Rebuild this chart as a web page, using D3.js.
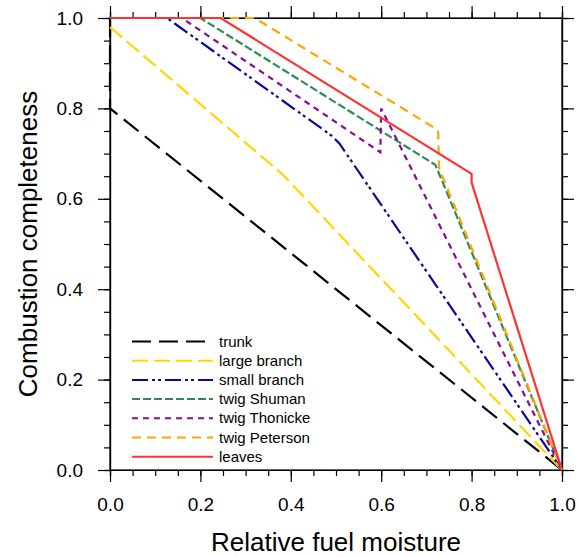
<!DOCTYPE html>
<meta charset="utf-8">
<style>
    body { margin: 0; background: #fff; }
    svg { font-family: "Liberation Sans", Arial, Helvetica, sans-serif; }
    .axis path, .axis line { fill: none; stroke: #000; stroke-width: 1.2; }
    .axis text { font-size: 19px; fill: #000; }
</style>
<body>
<script src="https://cdn.jsdelivr.net/npm/d3@7"></script>
<script>
    // series names, as in the legend
    const names = ["trunk", "large branch", "small branch", "twig Shuman",
                   "twig Thonicke", "twig Peterson", "leaves"];

    // break points (relative fuel moisture, completeness)
    const trunkX = [0, 0, 1];
    const trunkY = [1, 0.8, 0];
    const largeBranchX = [0, 0.383, 1];
    const largeBranchY = [0.98, 0.653, 0];
    const smallBranchX = [0, 0.126, 0.49, 0.507, 1];
    const smallBranchY = [1, 1, 0.74, 0.723, 0];
    const shumanX = [0, 0.2, 0.72, 1];
    const shumanY = [1, 1, 0.675, 0];
    const thonickeX = [0, 0.159, 0.598, 0.6, 1];
    const thonickeY = [1, 1, 0.703, 0.8, 0];
    const petersonX = [0, 0.32, 0.726, 0.728, 1];
    const petersonY = [1, 1, 0.752, 0.668, 0];
    const leavesX = [0, 0.245, 0.8, 0.8, 1];
    const leavesY = [1, 1, 0.655, 0.636, 0];

    const xTicks = [0, 0.2, 0.4, 0.6, 0.8, 1.0];
    const yTicks = [0, 0.2, 0.4, 0.6, 0.8, 1.0];

    const colors = ["#000000", "#ffd700", "#0a0a96", "#2e8b57", "#8b0a9b", "#ffa500", "#ff3333"];
    const dashes = ["19,8", "16,6", "16,4,3,3,3,4", "8,3", "6,5", "9,6", null];

    const series = [
        [trunkX, trunkY], [largeBranchX, largeBranchY], [smallBranchX, smallBranchY],
        [shumanX, shumanY], [thonickeX, thonickeY], [petersonX, petersonY], [leavesX, leavesY]
    ].map((s, i) => ({
        name: names[i],
        points: s[0].map((x, j) => [x, s[1][j]])
    }));

    const margin = {top: 18, right: 16, bottom: 87, left: 110};
    const W = 578, H = 557;
    const width = W - margin.left - margin.right;
    const height = H - margin.top - margin.bottom;

    const svg = d3.select('body').append('svg')
        .attr('width', W)
        .attr('height', H);

    const g = svg.append('g')
        .attr('transform', `translate(${margin.left},${margin.top})`);

    const x = d3.scaleLinear().domain([0, 1]).range([0, width]);
    const y = d3.scaleLinear().domain([0, 1]).range([height, 0]);
    const minor = d3.range(0, 1.0001, 0.05);
    const fmt = d3.format(".1f");

    // minor ticks on all four sides
    g.append('g').attr('class', 'axis').attr('transform', `translate(0,${height})`)
        .call(d3.axisBottom(x).tickValues(minor).tickSize(6).tickFormat(''));
    g.append('g').attr('class', 'axis')
        .call(d3.axisTop(x).tickValues(minor).tickSize(6).tickFormat(''));
    g.append('g').attr('class', 'axis')
        .call(d3.axisLeft(y).tickValues(minor).tickSize(6).tickFormat(''));
    g.append('g').attr('class', 'axis').attr('transform', `translate(${width},0)`)
        .call(d3.axisRight(y).tickValues(minor).tickSize(6).tickFormat(''));

    // major ticks
    g.append('g').attr('class', 'axis').attr('transform', `translate(0,${height})`)
        .call(d3.axisBottom(x).tickValues(xTicks).tickSize(12).tickSizeOuter(0).tickPadding(16).tickFormat(fmt));
    g.append('g').attr('class', 'axis')
        .call(d3.axisTop(x).tickValues(xTicks).tickSize(12).tickSizeOuter(0).tickFormat(''));
    g.append('g').attr('class', 'axis')
        .call(d3.axisLeft(y).tickValues(yTicks).tickSize(12).tickSizeOuter(0).tickPadding(15).tickFormat(fmt));
    g.append('g').attr('class', 'axis').attr('transform', `translate(${width},0)`)
        .call(d3.axisRight(y).tickValues(yTicks).tickSize(12).tickSizeOuter(0).tickFormat(''));

    // frame (drawn under the curves)
    g.append('rect')
        .attr('width', width).attr('height', height)
        .attr('fill', 'none').attr('stroke', '#000').attr('stroke-width', 1.2);

    const line = d3.line().x(d => x(d[0])).y(d => y(d[1]));

    g.selectAll('.series')
        .data(series)
        .enter().append('path')
        .attr('class', 'series')
        .attr('d', d => line(d.points))
        .attr('fill', 'none')
        .attr('stroke', (d, i) => colors[i])
        .attr('stroke-width', 2.2)
        .attr('stroke-dasharray', (d, i) => dashes[i]);

    // legend
    const legend = g.append('g').attr('transform', 'translate(22,323.5)')
        .selectAll('.legend')
        .data(series)
        .enter().append('g')
        .attr('class', 'legend')
        .attr('transform', (d, i) => `translate(0,${i * 19.2})`);

    legend.append('line')
        .attr('x1', 0).attr('x2', 81)
        .attr('stroke', (d, i) => colors[i])
        .attr('stroke-width', 2)
        .attr('stroke-dasharray', (d, i) => dashes[i]);

    legend.append('text')
        .attr('x', 87)
        .attr('y', 5)
        .style('font-size', '15px')
        .text(d => d.name);

    // axis titles
    svg.append('text')
        .attr('x', margin.left + width / 2)
        .attr('y', 551)
        .attr('text-anchor', 'middle')
        .style('font-size', '26px')
        .text('Relative fuel moisture');

    svg.append('text')
        .attr('transform', `translate(37,${margin.top + height / 2}) rotate(-90)`)
        .attr('text-anchor', 'middle')
        .style('font-size', '26px')
        .text('Combustion completeness');
</script>
</body>
</html>
